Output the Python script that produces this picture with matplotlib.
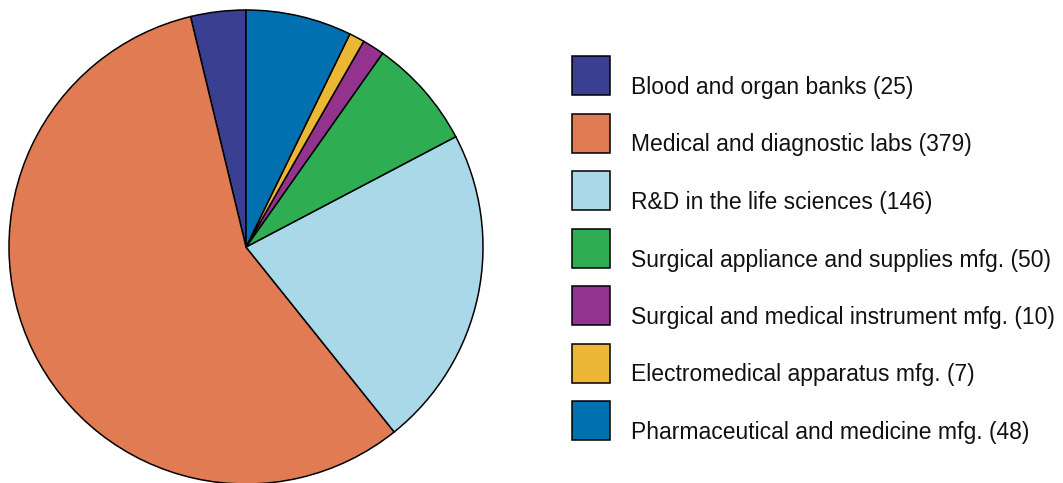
import matplotlib.pyplot as plt
from matplotlib.patches import Rectangle

plt.rcParams['font.family'] = ['Liberation Sans', 'DejaVu Sans']

# Data
categories = ['Blood and organ banks', 'Medical and diagnostic labs',
              'R&D in the life sciences', 'Surgical appliance and supplies mfg.',
              'Surgical and medical instrument mfg.', 'Electromedical apparatus mfg.',
              'Pharmaceutical and medicine mfg.']
counts = [25, 379, 146, 50, 10, 7, 48]
colors = ['#3B3F92', '#E07B53', '#A9D9E8', '#2EAD52', '#93338E', '#EBB734', '#0070B1']

W, H = 1063, 483
fig = plt.figure(figsize=(W / 100, H / 100), dpi=100)

# Pie
ax = fig.add_axes([8 / W, (H - 484) / H, 476 / W, 474 / H])
ax.pie(counts, colors=colors, startangle=90, counterclock=True,
       wedgeprops=dict(edgecolor='black', linewidth=1.1))
ax.set_xlim(-1, 1)
ax.set_ylim(-1, 1)
ax.set_aspect('equal')
ax.axis('off')

# Legend drawn by hand
lax = fig.add_axes([0, 0, 1, 1])
lax.set_xlim(0, W)
lax.set_ylim(H, 0)
lax.axis('off')
for i, (cat, n, c) in enumerate(zip(categories, counts, colors)):
    top = 56 + i * 57.5
    lax.add_patch(Rectangle((572, top), 38, 39, facecolor=c,
                            edgecolor='black', linewidth=1.1))
    lax.text(631, top + 38, f'{cat} ({n})', fontsize=16.5,
             va='baseline', ha='left', color='#111111')

fig.savefig('out.png', dpi=100)
